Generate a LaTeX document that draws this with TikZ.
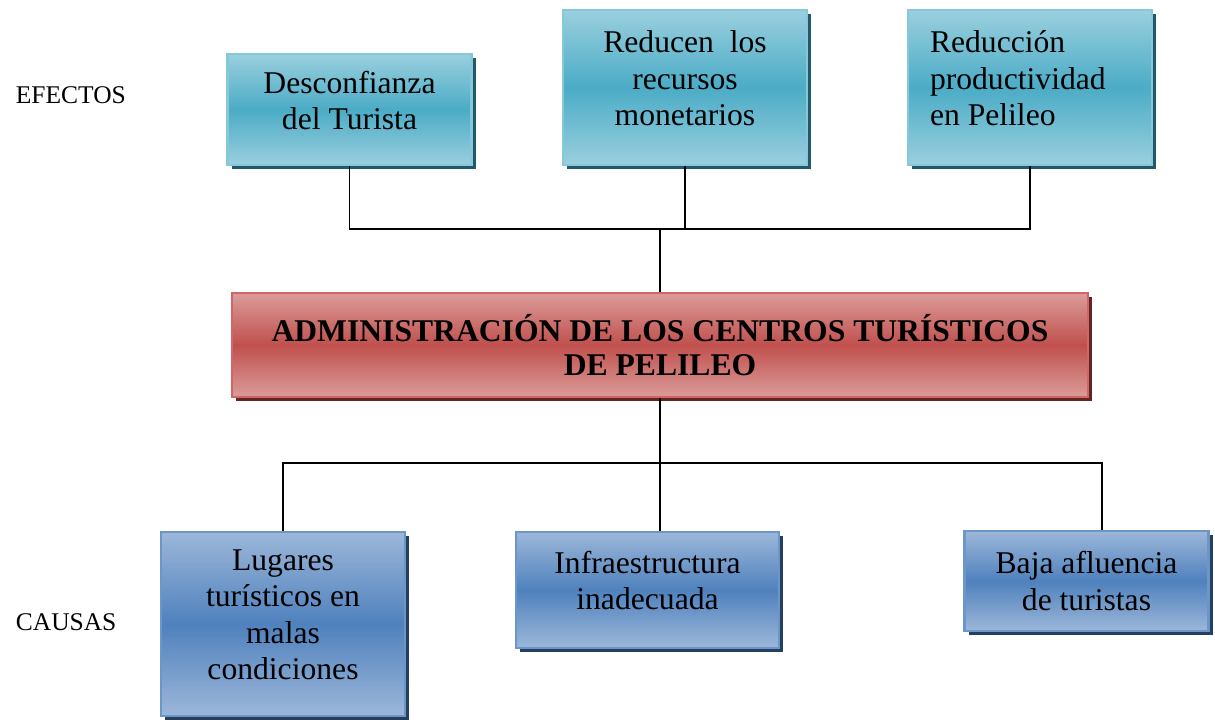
\documentclass[tikz,border=0pt]{standalone}
\usepackage{fontspec}
\setmainfont{Liberation Serif}
\usetikzlibrary{positioning,shadows}

\definecolor{efTop}{HTML}{9ACFDE}
\definecolor{efMid}{HTML}{4BACC6}
\definecolor{efBorde}{HTML}{86C7D9}
\definecolor{efSombra}{HTML}{215968}
\definecolor{prTop}{HTML}{DB9C9A}
\definecolor{prMid}{HTML}{C0504D}
\definecolor{prBorde}{HTML}{CF6764}
\definecolor{prSombra}{HTML}{632523}
\definecolor{caTop}{HTML}{9CB7D9}
\definecolor{caMid}{HTML}{4F81BD}
\definecolor{caBorde}{HTML}{6C95C8}
\definecolor{caSombra}{HTML}{243F60}

\begin{document}
\begin{tikzpicture}[line width=1pt,
  caja/.style = {rectangle, line width=1.2pt, align=flush center,
    font=\fontsize{18}{20.7}\selectfont, inner sep=2pt},
  subir/.style = {execute at end node={\\[-10pt]\mbox{}}},
  efecto/.style = {caja, draw=efBorde, top color=efTop, bottom color=efTop,
    middle color=efMid, minimum width=4.88cm, text width=4.6cm,
    drop shadow={shadow xshift=2.5pt, shadow yshift=-2.5pt, fill=efSombra, opacity=1}},
  problema/.style = {caja, draw=prBorde, top color=prTop, bottom color=prTop,
    middle color=prMid, minimum width=17.12cm, minimum height=2.08cm,
    font=\fontsize{18}{19.8}\selectfont\bfseries,
    drop shadow={shadow xshift=2.5pt, shadow yshift=-2.5pt, fill=prSombra, opacity=1}},
  causa/.style = {caja, draw=caBorde, top color=caTop, bottom color=caTop,
    middle color=caMid, minimum width=4.88cm, text width=4.6cm,
    drop shadow={shadow xshift=2.5pt, shadow yshift=-2.5pt, fill=caSombra, opacity=1}},
  etiqueta/.style = {anchor=west, inner sep=0pt, font=\fontsize{14.5}{17}\selectfont}]

  \useasboundingbox (0,0) rectangle (24.3,-14.48);

  % efectos
  \node[etiqueta] (EF) at (0.3,-1.9) {EFECTOS};
  \node[efecto, subir, minimum height=2.22cm] (Desc) at (6.99,-2.19) {Desconfianza\\del Turista};
  \node[efecto, subir, minimum height=3.1cm] (Recur) at (13.7,-1.75) {Reducen~ los\\recursos\\monetarios};
  \node[efecto, subir, minimum height=3.1cm, align=flush left, text width=4.0cm, inner xsep=0.42cm]
    (Prod) at (20.6,-1.75) {Reducción\\productividad\\en Pelileo};

  % problema central
  \node[problema] (Admin) at (13.2,-6.9) {ADMINISTRACIÓN DE LOS CENTROS TURÍSTICOS\\DE PELILEO};

  % causas
  \node[etiqueta] (CA) at (0.3,-12.44) {CAUSAS};
  \node[causa, subir, minimum height=3.68cm] (Lug) at (5.66,-12.48) {Lugares\\turísticos en\\malas\\condiciones};
  \node[causa, subir, minimum width=5.26cm, text width=5.0cm, minimum height=2.32cm] (Infra) at (12.95,-11.8) {Infraestructura\\inadecuada};
  \node[causa, minimum height=2.0cm] (Baja) at (21.73,-11.62) {Baja afluencia\\de turistas};

  \coordinate (EfBus) at (13.2,-4.58);
  \coordinate (CaBus) at (13.2,-9.26);
  \coordinate (BajaTop) at ([xshift=0.31cm]Baja.north);

  \draw (Desc.south) -- (Desc.south |- EfBus) -- (Prod.south |- EfBus) -- (Prod.south)
    (Recur.south) -- (Recur.south |- EfBus)
    (EfBus) -- (Admin.north);
  \draw (Admin.south) -- (CaBus)
    (Lug.north) -- (Lug.north |- CaBus) -- (BajaTop |- CaBus) -- (BajaTop)
    (CaBus) -- (CaBus |- Infra.north);
\end{tikzpicture}
\end{document}
